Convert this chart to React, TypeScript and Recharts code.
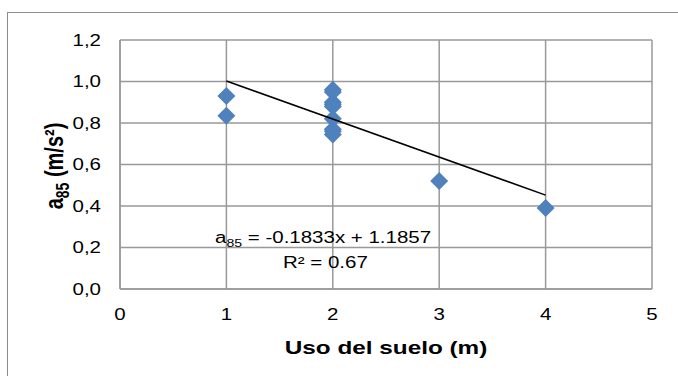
import { CartesianGrid, Scatter, ScatterChart, XAxis, YAxis, Label } from "recharts";

const usoSuelo = [1, 1, 2, 2, 2, 2, 2, 2, 2, 2, 2, 3, 4];
const a85 = [0.93, 0.835, 0.96, 0.95, 0.9, 0.89, 0.88, 0.82, 0.77, 0.76, 0.745, 0.52, 0.39];
const yTicks = [0, 0.2, 0.4, 0.6, 0.8, 1.0, 1.2];
const xTicks = [0, 1, 2, 3, 4, 5];
const slope = -0.1833;
const intercept = 1.1857;
const trendX = [1, 4];

const points = usoSuelo.map((x, i) => ({ x, y: a85[i] }));
const trend = trendX.map((x) => ({ x, y: slope * x + intercept }));

// the original picture is stretched sideways, text included
const stretch = 1.28;
const font = "Arial, 'Liberation Sans', sans-serif";

const Diamond = (props: any) => {
	const { cx, cy } = props;
	const r = 9;
	return <polygon points={`${cx},${cy - r} ${cx + r},${cy} ${cx},${cy + r} ${cx - r},${cy}`} fill="#4f81bd" />;
};

const XTick = ({ x, y, payload }: any) => (
	<text transform={`translate(${x},${y + 25}) scale(${stretch},1)`} textAnchor="middle" fontSize={16} fontFamily={font} fill="#000">
		{payload.value}
	</text>
);

const YTick = ({ x, y, payload }: any) => (
	<text transform={`translate(${x},${y}) scale(${stretch},1)`} textAnchor="end" dy="0.355em" fontSize={16} fontFamily={font} fill="#000">
		{Number(payload.value).toFixed(1).replace(".", ",")}
	</text>
);

const App = () => {
	return (
		<div style={{ position: "absolute", left: 0, top: 0, width: 678, height: 376, overflow: "hidden", background: "#fff", fontFamily: font }}>
			<div style={{ position: "absolute", left: 7, top: 12, width: 700, height: 400, border: "1.5px solid #8c8c8c" }} />
			<div style={{ position: "absolute", left: 0, top: 0 }}>
				<ScatterChart width={678} height={376} margin={{ top: 40, right: 26, bottom: 0, left: 40 }}>
					<CartesianGrid stroke="#999" strokeWidth={1.5} />
					<XAxis
						type="number"
						dataKey="x"
						domain={[0, 5]}
						ticks={xTicks}
						tickLine={false}
						tickSize={6}
						tickMargin={0}
						axisLine={{ stroke: "#999", strokeWidth: 1.5 }}
						tick={<XTick />}
						height={87}
					>
						<Label
							content={({ viewBox }: any) => (
								<text
									transform={`translate(${viewBox.x + viewBox.width / 2},${viewBox.y + 65}) scale(${stretch},1)`}
									textAnchor="middle"
									fontSize={19}
									fontWeight="bold"
									fontFamily={font}
									fill="#000"
								>
									Uso del suelo (m)
								</text>
							)}
						/>
					</XAxis>
					<YAxis
						type="number"
						dataKey="y"
						domain={[0, 1.2]}
						ticks={yTicks}
						tickLine={false}
						tickSize={6}
						tickMargin={13}
						axisLine={{ stroke: "#999", strokeWidth: 1.5 }}
						tick={<YTick />}
						width={80}
					/>
					<Scatter data={points} shape={<Diamond />} isAnimationActive={false} />
					<Scatter data={trend} line={{ stroke: "#000", strokeWidth: 1.5 }} shape={() => <g />} isAnimationActive={false} />
				</ScatterChart>
			</div>
			<div
				style={{
					position: "absolute",
					left: 54,
					top: 166,
					transform: `translate(-50%, -50%) scaleX(${stretch}) rotate(-90deg)`,
					whiteSpace: "nowrap",
					fontSize: 20,
					lineHeight: "22px",
					fontWeight: "bold",
				}}
			>
				a<sub style={{ fontSize: 14, lineHeight: 0 }}>85</sub> (m/s²)
			</div>
			<div
				style={{
					position: "absolute",
					left: 215,
					top: 228,
					fontSize: 16,
					whiteSpace: "nowrap",
					lineHeight: "20px",
					transform: `scaleX(${stretch})`,
					transformOrigin: "left center",
				}}
			>
				a<sub style={{ fontSize: 11 }}>85</sub> = -0.1833x + 1.1857
			</div>
			<div
				style={{
					position: "absolute",
					left: 283,
					top: 253,
					fontSize: 16,
					whiteSpace: "nowrap",
					lineHeight: "20px",
					transform: `scaleX(${stretch})`,
					transformOrigin: "left center",
				}}
			>
				R² = 0.67
			</div>
		</div>
	);
};

export default App;
